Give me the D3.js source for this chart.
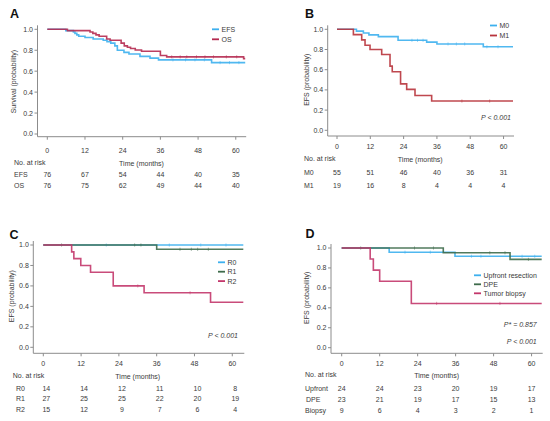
<!DOCTYPE html>
<html><head><meta charset="utf-8">
<script src="https://cdn.jsdelivr.net/npm/d3@7"></script>
<style>
html,body{margin:0;padding:0;background:#fff;}
svg{display:block;font-family:"Liberation Sans",Arial,sans-serif;}
</style></head>
<body>
<svg id="chart" width="550" height="421"></svg>
<script>
// ---------- DATA ----------
const riskTimes = [0, 12, 24, 36, 48, 60];
const yTicks = [0, 0.2, 0.4, 0.6, 0.8, 1.0];

// Panel A
const efsA = [[0,1],[5.9,0.987],[8.3,0.974],[8.8,0.961],[9.4,0.947],[10,0.934],[12,0.921],[14.6,0.908],[17.8,0.895],[19,0.882],[20.2,0.868],[21.5,0.842],[22.3,0.80],[24.4,0.78],[26,0.764],[29.5,0.741],[32.7,0.725],[35.4,0.708],[52.3,0.682]];
const osA = [[0,1],[6.4,0.987],[13.6,0.974],[14.5,0.961],[15.5,0.947],[16.5,0.934],[18.9,0.908],[20,0.895],[23.5,0.868],[24.5,0.842],[25.5,0.829],[26.5,0.816],[28,0.803],[30,0.79],[36,0.75],[38,0.737],[62.5,0.72]];
const efsACens = [40, 44, 47, 50, 55, 58, 61];
const osACens = [39.6, 42.3, 44.4, 47.5, 50.2, 52.9, 57, 60.3];
const riskEFS = [76, 67, 54, 44, 40, 35];
const riskOS = [76, 75, 62, 49, 44, 40];

// Panel B
const m0B = [[0,1],[7,0.982],[9.5,0.964],[11.5,0.945],[14.9,0.927],[22,0.891],[32.3,0.873],[36,0.855],[52.7,0.827]];
const m1B = [[0,1],[5.9,0.947],[8.9,0.895],[10.1,0.842],[11.9,0.8],[16.1,0.75],[19.1,0.635],[19.9,0.58],[22.9,0.46],[25.1,0.405],[28.1,0.345],[34.1,0.29]];
const m0BCens = [27, 29, 31, 40, 43, 46, 54, 58];
const m1BCens = [45, 55];
const riskM0 = [55, 51, 46, 40, 36, 31];
const riskM1 = [19, 16, 8, 4, 4, 4];

// Panel C
const r0C = [[0,1]];
const r1C = [[0,1],[36,0.958]];
const r2C = [[0,1],[9,0.933],[9.7,0.867],[11.9,0.8],[15,0.733],[22.2,0.6],[32,0.533],[53.1,0.44]];
const r0CCens = [20, 40, 50, 58];
const r1CCens = [5.8, 29, 31, 43.4, 47, 49, 52.4];
const r2CCens = [30, 46.6];
const riskR0 = [14, 14, 12, 11, 10, 8];
const riskR1 = [27, 25, 25, 22, 20, 19];
const riskR2 = [15, 12, 9, 7, 6, 4];

// Panel D
const upD = [[0,1],[15,0.958],[35.8,0.917]];
const dpeD = [[0,1],[32.1,0.952],[53.2,0.886]];
const bioD = [[0,1],[9,0.889],[10,0.778],[12,0.667],[22,0.444]];
const upDCens = [20, 28, 41, 44, 57, 61];
const dpeDCens = [6, 23, 29, 46.8, 51.6, 59];
const bioDCens = [30, 50];
const riskUp = [24, 24, 23, 20, 19, 17];
const riskDPE = [23, 21, 19, 17, 15, 13];
const riskBio = [9, 6, 4, 3, 2, 1];

// ---------- STYLE ----------
const BLUE = "#3db0ee", OSRED = "#b52a50", M1RED = "#b8343c", GREEN = "#3e6b4b", PINK = "#c3376b";
const AXC = "#8c8c8c", TXT = "#3a3a3a";

const panels = [
  { letter:"A", lx:10, ly:17.5, x0:47.3, x1:245.2, tMax:63, yTop:29.3, yBot:134, yAxisX:37.5, xAxisY:136.7,
    ytitle:"Survival (probability)", ytX:14, tickY:150.5, riskHeadY:162.7, riskLabX:14,
    series:[{d:efsA,c:BLUE,cens:efsACens,name:"EFS",risk:riskEFS,rlx:14},{d:osA,c:OSRED,cens:osACens,name:"OS",risk:riskOS,rlx:14}],
    riskY:[174.3,185.3], riskDx:0,
    leg:{x:212,y:29.3,dy:10}, pvals:[] },
  { letter:"B", lx:305, ly:17.5, x0:337, x1:513, tMax:63.4, yTop:29.3, yBot:130.3, yAxisX:327.7, xAxisY:136,
    ytitle:"EFS (probability)", ytX:307, tickY:146.7, riskHeadY:158.5, riskLabX:304,
    series:[{d:m0B,c:BLUE,cens:m0BCens,name:"M0",risk:riskM0,rlx:304},{d:m1B,c:M1RED,cens:m1BCens,name:"M1",risk:riskM1,rlx:304}],
    riskY:[172.7,185.7], riskDx:0,
    leg:{x:490,y:25.5,dy:10}, pvals:[{t:"P < 0.001",x:511,y:118}] },
  { letter:"C", lx:9.5, ly:238.5, x0:43.3, x1:243.3, tMax:63.5, yTop:245, yBot:347.3, yAxisX:33.3, xAxisY:353.3,
    ytitle:"EFS (probability)", ytX:11.5, tickY:364, riskHeadY:375.3, riskLabX:12.7,
    series:[{d:r0C,c:BLUE,cens:r0CCens,name:"R0",risk:riskR0,rlx:16},{d:r1C,c:GREEN,cens:r1CCens,name:"R1",risk:riskR1,rlx:16},{d:r2C,c:PINK,cens:r2CCens,name:"R2",risk:riskR2,rlx:16}],
    riskY:[388.3,398.5,409.3], riskDx:3,
    leg:{x:218,y:262.3,dy:9.4}, pvals:[{t:"P < 0.001",x:238,y:336}] },
  { letter:"D", lx:305.5, ly:237.5, x0:341.7, x1:541.7, tMax:63.2, yTop:248, yBot:347.7, yAxisX:331, xAxisY:353.3,
    ytitle:"EFS (probability)", ytX:306.7, tickY:364, riskHeadY:375, riskLabX:305,
    series:[{d:upD,c:BLUE,cens:upDCens,name:"Upfront resection",rname:"Upfront",risk:riskUp,rlx:305},{d:dpeD,c:GREEN,cens:dpeDCens,name:"DPE",rname:"DPE",risk:riskDPE,rlx:306},{d:bioD,c:PINK,cens:bioDCens,name:"Tumor biopsy",rname:"Biopsy",risk:riskBio,rlx:305}],
    riskY:[388.3,399.3,410.3], riskDx:0,
    leg:{x:474,y:275.3,dy:9}, pvals:[{t:"P* = 0.857",x:536.7,y:324.3},{t:"P < 0.001",x:536.7,y:341.7}] }
];

const svg = d3.select("#chart");

panels.forEach(p => {
  const g = svg.append("g");
  const x = d3.scaleLinear().domain([0, p.tMax]).range([p.x0, p.x1]);
  const y = d3.scaleLinear().domain([0, 1]).range([p.yBot, p.yTop]);

  g.append("text").attr("x", p.lx).attr("y", p.ly).attr("font-size", 12.5).attr("font-weight", "bold")
    .attr("fill", "#111").text(p.letter);

  g.append("line").attr("x1", p.yAxisX).attr("x2", p.yAxisX).attr("y1", p.yTop - 4).attr("y2", p.xAxisY)
    .attr("stroke", AXC).attr("stroke-width", 1);
  yTicks.forEach(v => {
    g.append("line").attr("x1", p.yAxisX - 3).attr("x2", p.yAxisX).attr("y1", y(v)).attr("y2", y(v))
      .attr("stroke", AXC);
    g.append("text").attr("x", p.yAxisX - 4.5).attr("y", y(v)).attr("dy", "0.35em").attr("text-anchor", "end")
      .attr("font-size", 7).attr("fill", TXT).text(d3.format(".1f")(v));
  });
  const yMid = (p.yTop + p.yBot) / 2;
  g.append("text").attr("transform", `translate(${p.ytX},${yMid}) rotate(-90)`).attr("text-anchor", "middle")
    .attr("dy", "0.35em").attr("font-size", 7).attr("fill", TXT).text(p.ytitle);

  g.append("line").attr("x1", p.yAxisX).attr("x2", p.x1 + 1).attr("y1", p.xAxisY).attr("y2", p.xAxisY)
    .attr("stroke", AXC);
  riskTimes.forEach(t => {
    g.append("line").attr("x1", x(t)).attr("x2", x(t)).attr("y1", p.xAxisY).attr("y2", p.xAxisY + 3)
      .attr("stroke", AXC);
    g.append("text").attr("x", x(t)).attr("y", p.tickY).attr("dy", "0.35em").attr("text-anchor", "middle")
      .attr("font-size", 7).attr("fill", TXT).text(t);
  });
  g.append("text").attr("x", x(30)).attr("y", p.riskHeadY + 0.8).attr("dy", "0.35em").attr("text-anchor", "middle")
    .attr("font-size", 7).attr("fill", TXT).text("Time (months)");
  g.append("text").attr("x", p.riskLabX).attr("y", p.riskHeadY).attr("dy", "0.35em")
    .attr("font-size", 7).attr("fill", TXT).text("No. at risk");

  const line = d3.line().x(d => x(d[0])).y(d => y(d[1])).curve(d3.curveStepAfter);
  p.series.forEach(s => {
    const pts = s.d.concat([[p.tMax, s.d[s.d.length - 1][1]]]);
    g.append("path").datum(pts).attr("d", line).attr("fill", "none").attr("stroke", s.c)
      .attr("stroke-width", 1.6).attr("stroke-opacity", 0.9);
    const surv = t => { let v = 1; s.d.forEach(d => { if (d[0] <= t) v = d[1]; }); return v; };
    s.cens.forEach(t => {
      g.append("line").attr("x1", x(t)).attr("x2", x(t)).attr("y1", y(surv(t)) - 1.6).attr("y2", y(surv(t)) + 1.6)
        .attr("stroke", s.c).attr("stroke-width", 0.7).attr("stroke-opacity", 0.7);
    });
  });

  p.series.forEach((s, i) => {
    const ly = p.leg.y + i * p.leg.dy;
    g.append("line").attr("x1", p.leg.x).attr("x2", p.leg.x + 7).attr("y1", ly).attr("y2", ly)
      .attr("stroke", s.c).attr("stroke-width", 1.8);
    g.append("text").attr("x", p.leg.x + 9.5).attr("y", ly).attr("dy", "0.35em").attr("font-size", 7)
      .attr("fill", TXT).text(s.name);
  });

  p.pvals.forEach(pv => {
    g.append("text").attr("x", pv.x).attr("y", pv.y).attr("dy", "0.35em").attr("text-anchor", "end")
      .attr("font-size", 7).attr("font-style", "italic").attr("fill", TXT).text(pv.t);
  });

  p.series.forEach((s, i) => {
    const ry = p.riskY[i];
    g.append("text").attr("x", s.rlx).attr("y", ry).attr("dy", "0.35em").attr("font-size", 7)
      .attr("fill", TXT).text(s.rname || s.name);
    s.risk.forEach((n, j) => {
      g.append("text").attr("x", x(riskTimes[j]) + p.riskDx).attr("y", ry).attr("dy", "0.35em")
        .attr("text-anchor", "middle").attr("font-size", 7).attr("fill", TXT).text(n);
    });
  });
});
</script>
</body></html>
